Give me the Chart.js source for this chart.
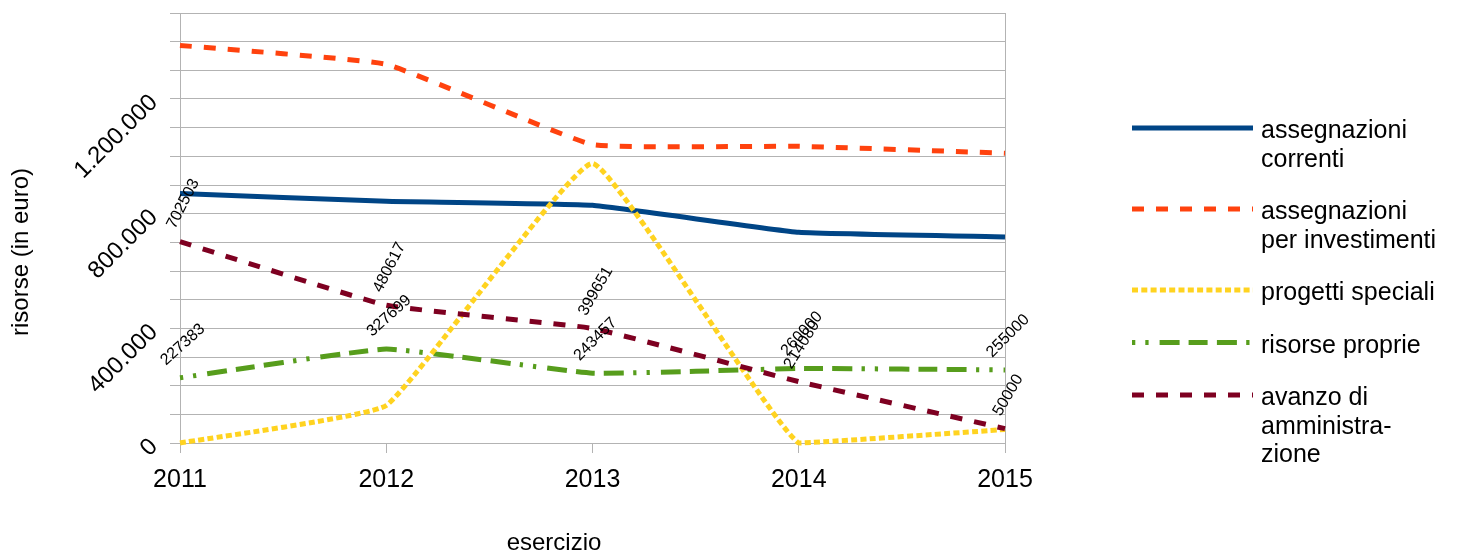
<!DOCTYPE html>
<html>
<head>
<meta charset="utf-8">
<title>Risorse per esercizio</title>
<script src="https://cdn.jsdelivr.net/npm/chart.js@4/dist/chart.umd.min.js"></script>
<style>
  html, body { margin: 0; padding: 0; background: #ffffff; }
  #wrap { width: 1461px; height: 556px; position: relative; }
  canvas { display: block; }
</style>
</head>
<body>
<div id="wrap"><canvas id="chart" width="1461" height="556"></canvas></div>
<script>
// Years on the horizontal axis
const years = ['2011', '2012', '2013', '2014', '2015'];

// Resources per year, in euro
const assegnazioniCorrenti = [870000, 843000, 829000, 735000, 719000];
const assegnazioniInvestimenti = [1387000, 1321000, 1041000, 1035000, 1011000];
const progettiSpeciali = [0, 131000, 975000, 0, 47000];
const risorseProprie = [227383, 327699, 243457, 260000, 255000];
const avanzoAmministrazione = [702503, 480617, 399651, 214080, 50000];

// Values that carry a label on the vertical axis
const yLabelValues = [0, 400000, 800000, 1200000];

// Series names, broken into the lines shown in the legend
const legendCorrenti = ['assegnazioni', 'correnti'];
const legendInvestimenti = ['assegnazioni', 'per investimenti'];
const legendSpeciali = ['progetti speciali'];
const legendProprie = ['risorse proprie'];
const legendAvanzo = ['avanzo di', 'amministra-', 'zione'];

const FONT = '"Liberation Sans", Arial, sans-serif';
const GRID = '#b3b3b3';

function formatIt(v) {
  return String(v).replace(/\B(?=(\d{3})+(?!\d))/g, '.');
}

// Rotated value labels above the points of selected series
const valueLabels = {
  id: 'valueLabels',
  afterDatasetsDraw(chart) {
    const ctx = chart.ctx;
    chart.data.datasets.forEach((ds, i) => {
      if (!ds.labelAngles) return;
      const meta = chart.getDatasetMeta(i);
      ctx.save();
      ctx.font = '16px ' + FONT;
      ctx.fillStyle = '#000000';
      ctx.textAlign = 'center';
      ctx.textBaseline = 'alphabetic';
      meta.data.forEach((pt, j) => {
        const text = String(ds.data[j]);
        const w = ctx.measureText(text).width;
        const h = 11.5;
        const a = ds.labelAngles[j] * Math.PI / 180;
        const boxH = w * Math.sin(a) + h * Math.cos(a);
        const cx = pt.x + 2;
        const cy = pt.y - 12 - boxH / 2;
        ctx.save();
        ctx.translate(cx, cy);
        ctx.rotate(-a);
        ctx.fillText(text, 0, h / 2);
        ctx.restore();
      });
      ctx.restore();
    });
  }
};

// Legend on the right, with wrapped series names, and the two axis titles
const sideLegend = {
  id: 'sideLegend',
  afterDraw(chart) {
    const ctx = chart.ctx;
    const x0 = 1132, x1 = 1253, tx = 1261, lineH = 28.5, gap = 24;
    let y = 128;
    chart.data.datasets.forEach((ds) => {
      ctx.save();
      ctx.strokeStyle = ds.borderColor;
      ctx.lineWidth = ds.borderWidth;
      ctx.lineCap = 'butt';
      ctx.setLineDash(ds.borderDash || []);
      ctx.beginPath();
      ctx.moveTo(x0, y);
      ctx.lineTo(x1, y);
      ctx.stroke();
      ctx.setLineDash([]);
      ctx.fillStyle = '#000000';
      ctx.font = '25px ' + FONT;
      ctx.textAlign = 'left';
      ctx.textBaseline = 'alphabetic';
      ds.legendLines.forEach((line, k) => {
        ctx.fillText(line, tx, y + 10 + k * lineH);
      });
      ctx.restore();
      y += ds.legendLines.length * lineH + gap;
    });

    ctx.save();
    ctx.fillStyle = '#000000';
    ctx.font = '24px ' + FONT;
    ctx.textAlign = 'center';
    ctx.textBaseline = 'middle';
    ctx.fillText('esercizio', 554, 543);
    ctx.translate(21, 252);
    ctx.rotate(-Math.PI / 2);
    ctx.fillText('risorse (in euro)', 0, 0);
    ctx.restore();
  }
};

const common = {
  pointRadius: 0,
  pointHoverRadius: 0,
  fill: false,
  borderCapStyle: 'butt',
  borderJoinStyle: 'round',
  tension: 0.1,
  clip: false
};

new Chart(document.getElementById('chart'), {
  type: 'line',
  data: {
    labels: years,
    datasets: [
      Object.assign({}, common, {
        label: 'assegnazioni correnti',
        legendLines: legendCorrenti,
        data: assegnazioniCorrenti,
        borderColor: '#004586',
        borderWidth: 5,
        order: 5
      }),
      Object.assign({}, common, {
        label: 'assegnazioni per investimenti',
        legendLines: legendInvestimenti,
        data: assegnazioniInvestimenti,
        borderColor: '#ff420e',
        borderWidth: 5,
        borderDash: [12, 12],
        order: 4
      }),
      Object.assign({}, common, {
        label: 'progetti speciali',
        legendLines: legendSpeciali,
        data: progettiSpeciali,
        borderColor: '#ffd320',
        borderWidth: 5,
        borderDash: [6, 3.3],
        order: 2
      }),
      Object.assign({}, common, {
        label: 'risorse proprie',
        legendLines: legendProprie,
        data: risorseProprie,
        borderColor: '#579d1c',
        borderWidth: 5,
        borderDash: [3.3, 10, 3.3, 11, 20, 9, 19, 9.3, 20, 9.3],
        labelAngles: [42, 42, 45, 48, 45],
        order: 3
      }),
      Object.assign({}, common, {
        label: 'avanzo di amministrazione',
        legendLines: legendAvanzo,
        data: avanzoAmministrazione,
        borderColor: '#7e0021',
        borderWidth: 5,
        borderDash: [12, 12],
        labelAngles: [63, 63, 60, 58, 60],
        order: 1
      })
    ]
  },
  options: {
    responsive: false,
    animation: false,
    devicePixelRatio: 1,
    events: [],
    layout: { padding: { top: 13, right: 456, bottom: 0, left: 0 } },
    plugins: {
      legend: { display: false },
      tooltip: { enabled: false },
      title: { display: false }
    },
    scales: {
      x: {
        type: 'category',
        offset: false,
        grid: {
          color: (c) => (c.index === years.length - 1 ? GRID : 'rgba(0,0,0,0)'),
          tickColor: GRID,
          tickLength: 10,
          lineWidth: 1
        },
        border: { color: GRID, width: 1 },
        ticks: {
          color: '#000000',
          font: { family: FONT, size: 25 },
          padding: 12,
          maxRotation: 0,
          autoSkip: false
        },
        afterFit: (s) => {
          s.height = 113;
          s.paddingLeft = 0;
          s.paddingRight = 0;
        }
      },
      y: {
        min: 0,
        max: 1500000,
        grid: { color: GRID, tickColor: GRID, tickLength: 10, lineWidth: 1 },
        border: { color: GRID, width: 1 },
        ticks: {
          stepSize: 100000,
          autoSkip: false,
          minRotation: 45,
          maxRotation: 45,
          padding: 16,
          color: '#000000',
          font: { family: FONT, size: 24 },
          callback: (v) => (yLabelValues.includes(v) ? formatIt(v) : '')
        },
        afterFit: (s) => {
          s.width = 180;
          s.paddingTop = 0;
          s.paddingBottom = 0;
        }
      }
    }
  },
  plugins: [valueLabels, sideLegend]
});
</script>
</body>
</html>
